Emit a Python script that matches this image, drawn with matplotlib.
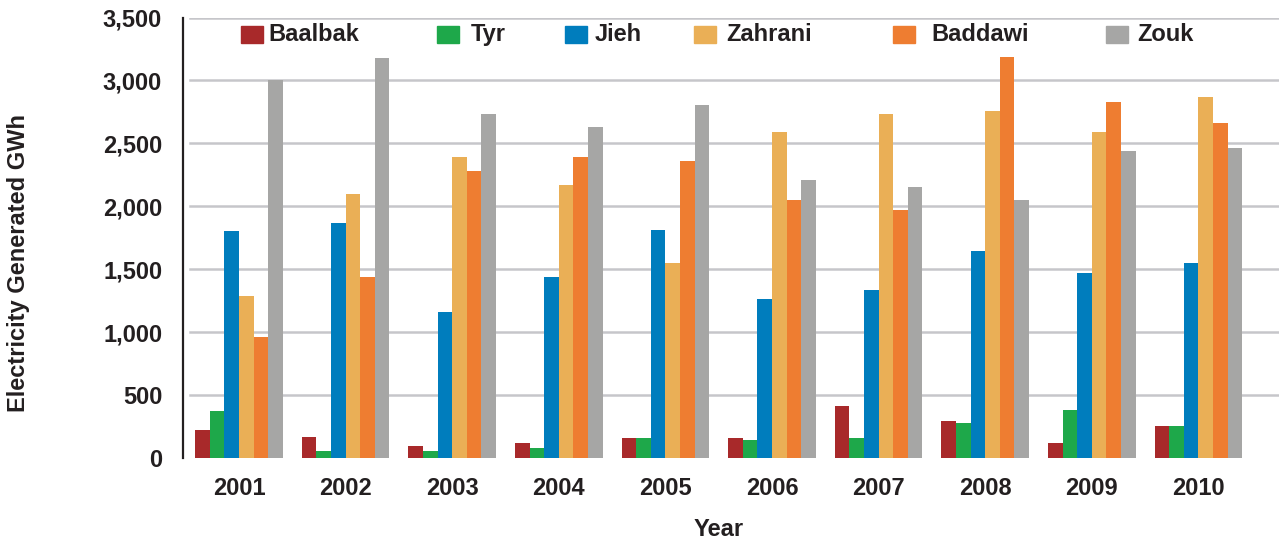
import numpy as np
import matplotlib
matplotlib.use("Agg")
import matplotlib.pyplot as plt
from matplotlib.patches import Rectangle

plt.rcParams['font.family'] = ['Liberation Sans', 'DejaVu Sans']
plt.rcParams['font.weight'] = 'bold'

years = ['2001', '2002', '2003', '2004', '2005', '2006', '2007', '2008', '2009', '2010']
plants = ['Baalbak', 'Tyr', 'Jieh', 'Zahrani', 'Baddawi', 'Zouk']

baalbak = [223, 167, 95, 119, 159, 159, 413, 294, 119, 254]
tyr = [374, 56, 56, 79, 159, 143, 159, 278, 382, 254]
jieh = [1804, 1868, 1161, 1439, 1812, 1264, 1335, 1645, 1471, 1550]
zahrani = [1288, 2099, 2393, 2170, 1550, 2591, 2734, 2758, 2591, 2870]
baddawi = [962, 1439, 2281, 2393, 2361, 2051, 1971, 3188, 2830, 2663]
zouk = [3000, 3180, 2734, 2631, 2806, 2210, 2154, 2051, 2440, 2464]

series = [baalbak, tyr, jieh, zahrani, baddawi, zouk]
colors = ['#a8292a', '#1ea84a', '#007dbd', '#eaaf56', '#ee7d31', '#a6a6a5']
yticks = [0, 500, 1000, 1500, 2000, 2500, 3000, 3500]

txt = '#231f20'
fs = 17
W, H = 1279, 542
fig = plt.figure(figsize=(W / 100, H / 100), dpi=100)
# axes box in pixels: left spine at 183, zero at 458, 3500 at 17.5
ax = fig.add_axes([183 / W, (H - 458) / H, 1 - 183 / W, (458 - 17.5) / H])

x = np.arange(len(years))
bw = 0.137
for k, vals in enumerate(series):
    ax.bar(x + (k - 2.5) * bw, vals, width=bw, color=colors[k], linewidth=0, zorder=3)

# gridlines (none at zero), start a bit right of the spine
for v in yticks[1:]:
    ax.axhline(v, xmin=0.0064, xmax=1, color='#c6c6ca', linewidth=1.8, zorder=1)

ax.set_xlim(-0.525, 9.756)
ax.set_ylim(0, 3500)
ax.set_xticks(x)
ax.set_xticklabels(years)
ax.set_yticks(yticks)
ax.set_yticklabels([f'{v:,}' for v in yticks])
ax.tick_params(axis='both', length=0, labelsize=fs, colors=txt)
ax.tick_params(axis='x', pad=14)
ax.tick_params(axis='y', pad=15)
for lab in ax.get_xticklabels() + ax.get_yticklabels():
    lab.set_fontweight('bold')

for s in ['top', 'right', 'bottom']:
    ax.spines[s].set_visible(False)
ax.spines['left'].set_color(txt)
ax.spines['left'].set_linewidth(1.6)

fig.text(719 / W, 1 - 529 / H, 'Year', ha='center', va='center',
         fontsize=fs, fontweight='bold', color=txt)
fig.text(19 / W, 1 - 263.5 / H, 'Electricity Generated GWh', ha='center', va='center',
         rotation=90, fontsize=fs, fontweight='bold', color=txt)

# legend laid out like the original (irregular spacing)
patch_x = [241, 437, 565, 694, 893, 1106]
text_x = [268, 471, 595, 726, 931, 1137]
for k, name in enumerate(plants):
    fig.patches.append(Rectangle((patch_x[k] / W, 1 - 43 / H), 22 / W, 17 / H,
                                 transform=fig.transFigure, color=colors[k], zorder=5))
    fig.text(text_x[k] / W, 1 - 34.5 / H, name, ha='left', va='center',
             fontsize=fs, fontweight='bold', color=txt)

fig.savefig('out.png', dpi=100)
